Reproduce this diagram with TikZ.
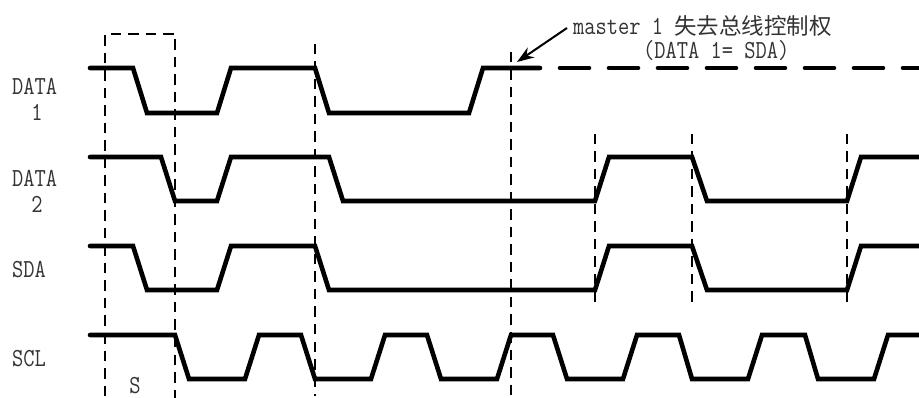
\documentclass[tikz,border=0pt]{standalone}
\usepackage{fontspec}
\newfontfamily\latfont[FakeStretch=0.84]{Latin Modern Mono}
\newfontfamily\cjk{Noto Sans CJK SC}
\usetikzlibrary{arrows.meta}
\tikzset{
    sig/.style={line width=4.6pt, line cap=round},
    guide/.style={line width=2pt, dash pattern=on 10.5pt off 7pt},
    txt/.style={inner sep=0pt, font=\fontsize{26}{29}\selectfont\latfont, text=black!80},
}
\begin{document}
\begin{tikzpicture}[x=1pt, y=-1pt, >={Stealth[length=17pt, width=12pt]}]
    \useasboundingbox (0,0) rectangle (919,398);

    % --- guides ---
    \draw[guide] (105,396) -- (105,34) -- (175,34) -- (175,398);
    \draw[guide] (315,44) -- (315,396);
    \draw[guide] (511,52) -- (511,398);
    \foreach \x in {595, 692, 847} {
        \draw[guide] (\x,134) -- (\x,303);
    }

    % --- DATA 1 ---
    \draw[sig] (90,68) -- (133,68) -- (147,113) -- (217,113) -- (231,68) -- (315,68) -- (329,113)
        -- (469,113) -- (483,68) -- (540,68);
    \draw[sig, dash pattern=on 29pt off 20pt] (560,68) -- (919,68);

    % --- DATA 2 ---
    \draw[sig] (90,157) -- (161,157) -- (175,201) -- (217,201) -- (231,157) -- (329,157) -- (343,201)
        -- (595,201) -- (609,157) -- (692,157) -- (707,201) -- (847,201) -- (861,157) -- (919,157);

    % --- SDA ---
    \draw[sig] (90,246) -- (133,246) -- (147,290) -- (217,290) -- (231,246) -- (315,246) -- (329,290)
        -- (595,290) -- (609,246) -- (692,246) -- (707,290) -- (847,290) -- (861,246) -- (919,246);

    % --- SCL ---
    \draw[sig] (90,335) -- (175,335) -- (189,379) -- (245,379) -- (259,335) -- (301,335) -- (315,379)
        -- (371,379) -- (385,335) -- (427,335) -- (441,379) -- (497,379) -- (511,335) -- (553,335)
        -- (567,379) -- (623,379) -- (637,335) -- (679,335) -- (692,379) -- (748,379) -- (762,335)
        -- (805,335) -- (818,379) -- (874,379) -- (888,335) -- (919,335);

    % --- labels ---
    \node[txt, anchor=west] (data1a) at (12,86) {DATA};
    \node[txt] (data1b) at (37,112) {1};
    \node[txt, anchor=west] (data2a) at (12,178) {DATA};
    \node[txt] (data2b) at (37,204) {2};
    \node[txt, anchor=west] (sdalab) at (12,270) {SDA};
    \node[txt, anchor=west] (scllab) at (12,359) {SCL};
    \node[txt] (startlab) at (135,386) {S};

    \node[txt, anchor=west] (lostlab) at (573,26) {master 1 {\fontsize{22.5}{24}\selectfont\cjk 失去总线控制权}};
    \node[txt, anchor=west] (lostsub) at (643,51) {(DATA 1= SDA)};
    \coordinate (losttip) at (517,62);
    \draw[->, line width=2pt] (lostlab.west) ++(-6,2) -- (losttip);
\end{tikzpicture}
\end{document}
